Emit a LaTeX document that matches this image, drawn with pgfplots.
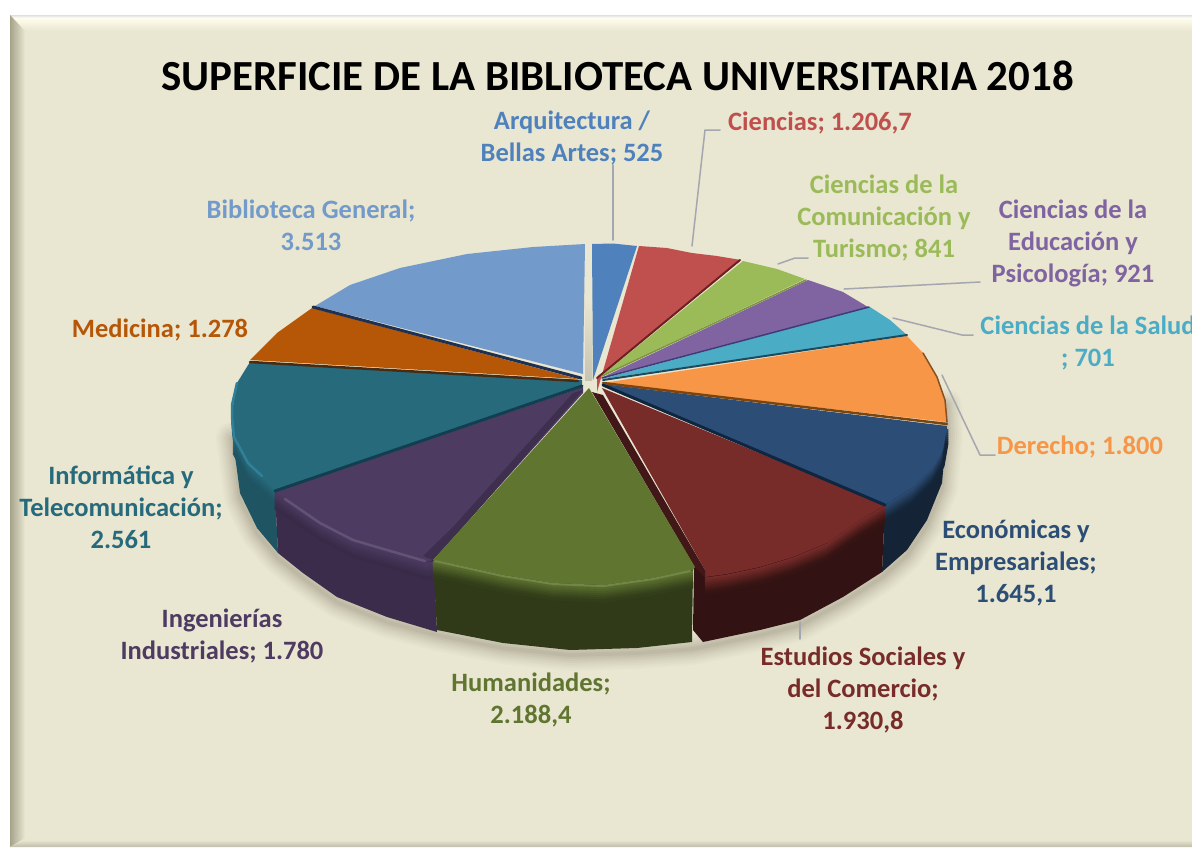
\documentclass[border=0pt]{standalone}
\usepackage{pgfplots}
\pgfplotsset{compat=1.18}
\usepackage{fontspec}
\setmainfont{Carlito}
\definecolor{bgc}{HTML}{E9E6D1}
\definecolor{lblArq}{HTML}{4F81BD}
\definecolor{lblCie}{HTML}{C0504D}
\definecolor{lblCom}{HTML}{9BBB59}
\definecolor{lblEdu}{HTML}{8064A2}
\definecolor{lblSal}{HTML}{4BACC6}
\definecolor{lblDer}{HTML}{F79646}
\definecolor{lblEco}{HTML}{2C4D75}
\definecolor{lblEst}{HTML}{772C2A}
\definecolor{lblHum}{HTML}{5F7530}
\definecolor{lblIng}{HTML}{4D3B62}
\definecolor{lblInf}{HTML}{276A7C}
\definecolor{lblMed}{HTML}{B65708}
\definecolor{lblBib}{HTML}{729ACA}
\definecolor{leader}{HTML}{A5A7B0}
\definecolor{eA}{HTML}{2F8098}
\definecolor{eB}{HTML}{1F3050}
\definecolor{eC}{HTML}{4A2A10}
\definecolor{eD}{HTML}{123F50}
\definecolor{eE}{HTML}{6E2020}
\definecolor{eF}{HTML}{7E9440}
\definecolor{eG}{HTML}{3F3A78}
\definecolor{eH}{HTML}{1F4A5C}
\definecolor{eI}{HTML}{7A4510}
\definecolor{eJ}{HTML}{0F2540}
\definecolor{eK}{HTML}{8A5020}
\definecolor{bev}{HTML}{A5A38A}
\definecolor{cream}{HTML}{FFFDEC}
\definecolor{shd}{HTML}{4A4630}
\newcommand{\poly}[2]{\addplot[fill=#1,draw=none] coordinates {#2};}
\newcommand{\edge}[3]{\addplot[draw=#1,line width=#2pt,line cap=round,line join=round] coordinates {#3};}
% rim band: coordinates #3, from top colour #1 to side colour #2
\newcommand{\band}[3]{%
\addplot[draw=#2!5!#1,line width=3pt,yshift=-2pt] coordinates {#3};
\addplot[draw=#2!18!#1,line width=3pt,yshift=-4pt] coordinates {#3};
\addplot[draw=#2!32!#1,line width=3pt,yshift=-6pt] coordinates {#3};
\addplot[draw=#2!46!#1,line width=3pt,yshift=-8pt] coordinates {#3};
\addplot[draw=#2!60!#1,line width=3pt,yshift=-10pt] coordinates {#3};
\addplot[draw=#2!73!#1,line width=3pt,yshift=-12pt] coordinates {#3};
\addplot[draw=#2!85!#1,line width=3pt,yshift=-14pt] coordinates {#3};
\addplot[draw=#2!95!#1,line width=3pt,yshift=-16pt] coordinates {#3};
}
\newcommand{\shlayer}[3]{\addplot[draw=shd,opacity=#2,line width=#1pt,line join=round,line cap=round,yshift=-5pt] coordinates {#3};}
\newcommand{\shadow}[1]{%
\shlayer{32}{.018}{#1}\shlayer{28}{.022}{#1}\shlayer{24}{.026}{#1}\shlayer{20}{.03}{#1}
\shlayer{16}{.035}{#1}\shlayer{12}{.04}{#1}\shlayer{8}{.05}{#1}\shlayer{4}{.06}{#1}
}
\newcommand{\lbl}[4]{\node[text=#1,align=center,font=\fontsize{26.5}{32}\selectfont\bfseries,inner sep=0pt] at (axis cs:#2,#3) {#4};}
\begin{document}
\begin{tikzpicture}
\clip (0,0) rectangle (1192pt,847pt);
\begin{axis}[
  at={(0,0)},anchor=south west,
  hide axis,scale only axis,width=1192pt,height=847pt,
  xmin=0,xmax=1192,ymin=0,ymax=847,y dir=reverse,clip=false]
% frame
\poly{white}{(0,0)(1192,0)(1192,847)(0,847)}
\poly{bgc}{(10,15)(1192,15)(1192,847)(10,847)}
\addplot[top color=white!75!gray,bottom color=white,draw=none] coordinates {(10,15)(1192,15)(1192,18)(13,18)};
\addplot[top color=cream,bottom color=bgc,draw=none] coordinates {(12,18)(1192,18)(1192,31)(25,31)};
\addplot[left color=bev,right color=bgc,draw=none] coordinates {(10,15)(25,31)(25,838)(10,847)};
\addplot[top color=bgc,bottom color=bgc!82!black,draw=none] coordinates {(25,840)(1192,840)(1192,847)(10,847)};
% soft shadow
\shadow{(946,400)(947,430)(942,483)(927,520)(907,550)(882,572)(843,597)(800,620)(760,630)(703,642)(692,644)(637,648)(570,650)(503,643)(437,630)(387,617)(337,597)(303,573)(278,553)(257,528)(240,493)(232,433)}
% teal
\poly{lblInf!80!black}{(231,417)(232,433)(240,493)(257,528)(278,553)(275,490)}
\band{lblInf}{lblInf!78!black}{(234,437)(247,463)(275,488)}
\poly{lblInf}{(582,380)(250,362)(237,383)(231,417)(233,437)(247,463)(275,490)(582,387)}
\edge{eA}{2.5}{(237,383)(232,405)(232,417)(234,437)(248,463)(262,476)}
% purple
\poly{lblIng!75!black}{(275,492)(278,553)(303,573)(337,597)(387,617)(437,632)(434,560)}
\band{lblIng}{lblIng!72!black}{(275,492)(287,500)(320,523)(353,540)(387,550)(427,562)(433,561)}
\poly{lblIng}{(583,387)(275,492)(287,500)(320,523)(353,540)(387,550)(427,562)(433,560)(583,393)}
\poly{lblIng!80!black}{(583,390)(573,393)(453,527)(423,556)(433,560)(463,527)}
\edge{lblIng!88!white}{2.5}{(285,499)(320,523)(353,540)(387,550)(425,561)}
% navy
\poly{lblEco!45!black}{(947,427)(942,483)(927,520)(907,550)(882,572)(885,505)}
\band{lblEco}{lblEco!45!black}{(947,427)(943,450)(933,467)(913,487)(885,505)}
\poly{lblEco}{(603,384)(947,426)(943,450)(933,467)(913,487)(885,505)}
% red
\poly{lblEst!42!black}{(885,505)(882,572)(843,597)(800,620)(760,630)(703,642)(693,630)(694,565)(705,577)}
\band{lblEst}{lblEst!42!black}{(885,505)(860,520)(827,543)(793,557)(760,567)(727,574)(705,577)}
\poly{lblEst}{(602,388)(885,505)(860,520)(827,543)(793,557)(760,567)(727,574)(705,577)(705,570)}
\poly{lblEst!55!black}{(592,392)(603,395)(705,570)(705,578)(694,566)}
% green
\poly{lblHum!50!black}{(693,570)(692,642)(637,648)(570,650)(503,643)(437,630)(433,560)}
\band{lblHum}{lblHum!50!black}{(693,570)(653,578)(603,585)(553,583)(503,575)(467,567)(433,560)}
\poly{lblHum}{(589,388)(695,567)(693,570)(653,578)(603,585)(553,583)(503,575)(467,567)(433,560)}
\edge{lblHum!88!white}{2}{(435,561)(467,568)(503,576)(553,584)(603,586)(653,579)(690,571)}
% top faces, back half
\poly{lblBib}{(315,306)(350,285)(400,268)(467,254)(533,247)(585,244)(583,374)}
\poly{lblMed}{(250,360)(277,333)(312,308)(578,379)}
\poly{lblArq}{(592,244)(613,243.5)(637,246)(593,380)}
\poly{lblCie}{(639,246)(667,248)(692,253)(717,256)(741,260)(597,378)(597,392)}
\poly{lblCom}{(743,261)(777,269)(805,279)(601,376)}
\poly{lblEdu}{(808,280)(843,292)(868,307)(601,378)}
\poly{lblSal}{(870,307)(890,320)(907,335)(602,379)}
\poly{lblDer}{(907,336)(923,353)(937,377)(945,400)(947,422)(603,383)}
% edges between slices
\edge{eB}{3}{(313,307)(581,378)}
\edge{eC}{2.5}{(250,362)(578,381)}
\edge{eD}{3}{(275,491)(582,386)}
\edge{eE}{2}{(740,260)(597,378)}
\edge{eF}{1.5}{(806,280)(602,376)}
\edge{eG}{1.5}{(869,307)(602,378)}
\edge{eH}{2}{(907,335)(603,380)}
\edge{eI}{2.5}{(947,424)(603,383)}
\edge{eJ}{3}{(885,505)(603,385)}
\edge{eK}{1.5}{(923,353)(937,377)(945,400)(947,422)}
% centre gap
\addplot[top color=bgc,bottom color=bgc!85!black,draw=none] coordinates {(585,300)(592,300)(592,380)(585,380)};
% leaders
\edge{leader}{1.5}{(613,165)(613,240)}
\edge{leader}{1.5}{(720,130)(705,130)(692,246)}
\edge{leader}{1.5}{(808,258)(795,258)(778,264)}
\edge{leader}{1.5}{(980,282)(844,289)}
\edge{leader}{1.5}{(973,335)(962,335)(893,318)}
\edge{leader}{1.5}{(995,455)(980,455)(942,375)}
\edge{leader}{1.5}{(800,622)(800,639)}
% texts
\node[text=black,font=\fontsize{42.9}{48}\selectfont\bfseries,inner sep=0pt] at (axis cs:617.5,76) {SUPERFICIE DE LA BIBLIOTECA UNIVERSITARIA 2018};
\lbl{lblArq}{572}{138}{Arquitectura /\\Bellas Artes; 525}
\lbl{lblCie}{820}{123}{Ciencias; 1.206,7}
\lbl{lblCom}{884}{218}{Ciencias de la\\Comunicación y\\Turismo; 841}
\lbl{lblEdu}{1073}{243}{Ciencias de la\\Educación y\\Psicología; 921}
\lbl{lblSal}{1088}{343}{Ciencias de la Salud\\; 701}
\lbl{lblDer}{1080}{447}{Derecho; 1.800}
\lbl{lblEco}{1016}{563}{Económicas y\\Empresariales;\\1.645,1}
\lbl{lblEst}{863}{690}{Estudios Sociales y\\del Comercio;\\1.930,8}
\lbl{lblHum}{531}{700}{Humanidades;\\2.188,4}
\lbl{lblIng}{222}{636}{Ingenierías\\Industriales; 1.780}
\lbl{lblInf}{121}{507}{Informática y\\Telecomunicación;\\2.561}
\lbl{lblMed}{160}{330}{Medicina; 1.278}
\lbl{lblBib}{311}{225}{Biblioteca General;\\3.513}
\end{axis}
\end{tikzpicture}
\end{document}
